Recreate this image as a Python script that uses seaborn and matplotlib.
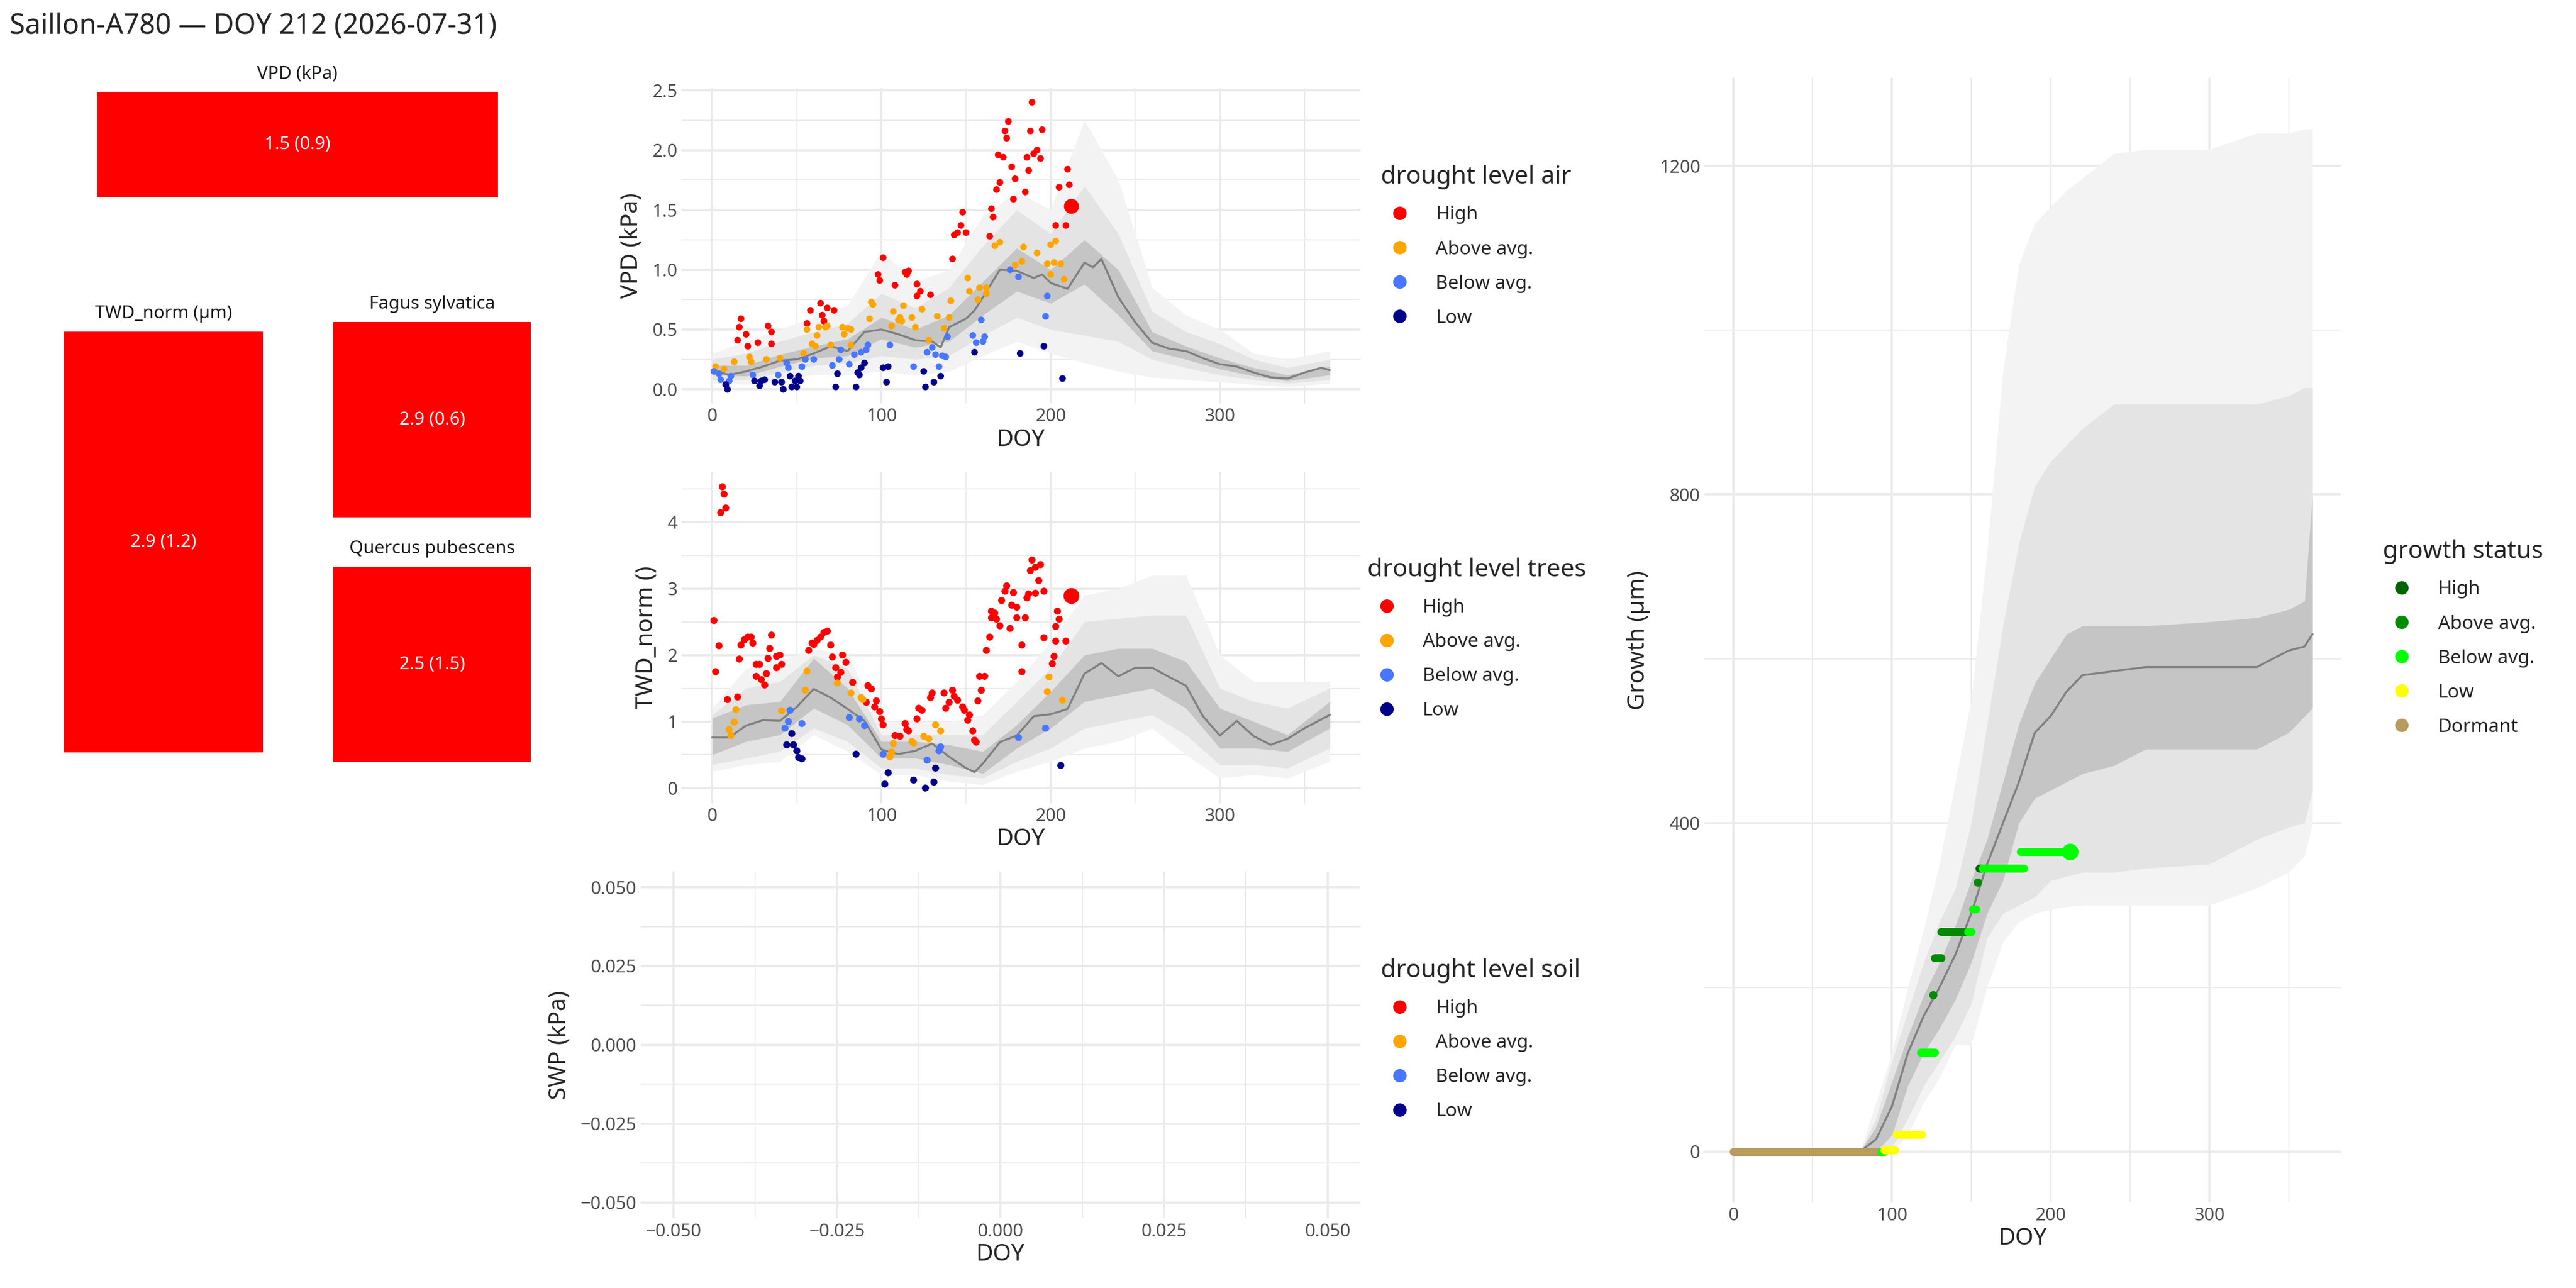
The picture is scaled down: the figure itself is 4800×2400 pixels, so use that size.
"""Site dashboard: drought tiles, VPD / TWD / SWP climatologies and growth curve."""

import matplotlib.pyplot as plt
import pandas as pd
import seaborn as sns
from matplotlib.lines import Line2D
from matplotlib.patches import Rectangle
from matplotlib.ticker import MultipleLocator

sns.set_theme(style="whitegrid")
plt.rcParams["font.family"] = ["Noto Sans", "DejaVu Sans"]

TITLE = "Saillon-A780 \u2014 DOY 212 (2026-07-31)"
CUR_DOY = 212

LEVELS = ["High", "Above avg.", "Below avg.", "Low"]
LEVEL_COLORS = ["#FF0000", "#FFA500", "#4876FF", "#00008B"]
GROWTH_LEVELS = ["High", "Above avg.", "Below avg.", "Low", "Dormant"]
GROWTH_COLORS = ["#006400", "#008B00", "#00FF00", "#FFFF00", "#B89B5E"]

# ---- summary tiles ----
tile_titles = ["VPD (kPa)", "TWD_norm (\u00b5m)", "Fagus sylvatica", "Quercus pubescens"]
tile_values = ["1.5 (0.9)", "2.9 (1.2)", "2.9 (0.6)", "2.5 (1.5)"]

# ---- VPD climatology (kPa) ----
clim_doy = [0, 20, 40, 60, 80, 100, 120, 140, 160, 180, 200, 220, 240, 260, 280, 300, 320, 340, 365]
med_doy = [0, 10, 20, 30, 40, 50, 60, 70, 80, 90, 100, 110, 120, 130, 135, 140, 150, 155, 160, 170, 180, 190, 195, 200,
           210, 220, 225, 230, 240, 250, 260, 270, 280, 290, 300, 310, 320, 330, 340, 350, 360, 365]
vpd_med = [0.16, 0.12, 0.15, 0.19, 0.24, 0.25, 0.30, 0.36, 0.32, 0.48, 0.50, 0.46, 0.41, 0.40, 0.35, 0.52, 0.59, 0.66,
           0.77, 1.00, 0.99, 0.93, 0.96, 0.89, 0.84, 1.06, 1.02, 1.09, 0.77, 0.56, 0.39, 0.34, 0.32, 0.26, 0.21, 0.19,
           0.14, 0.10, 0.09, 0.14, 0.18, 0.16]
vpd_in_lo = [0.12, 0.11, 0.19, 0.26, 0.28, 0.42, 0.35, 0.40, 0.62, 0.82, 0.72, 0.88, 0.62, 0.32, 0.25, 0.17, 0.11, 0.07, 0.12]
vpd_in_hi = [0.20, 0.20, 0.29, 0.36, 0.42, 0.60, 0.50, 0.62, 0.90, 1.18, 1.00, 1.25, 1.00, 0.48, 0.36, 0.26, 0.18, 0.12, 0.19]
vpd_mid_lo = [0.08, 0.08, 0.14, 0.20, 0.22, 0.28, 0.25, 0.28, 0.45, 0.60, 0.50, 0.45, 0.40, 0.25, 0.18, 0.12, 0.08, 0.05, 0.08]
vpd_mid_hi = [0.25, 0.30, 0.40, 0.48, 0.55, 0.80, 0.68, 0.85, 1.20, 1.50, 1.30, 1.70, 1.30, 0.65, 0.48, 0.38, 0.25, 0.18, 0.25]
vpd_out_lo = [0.05, 0.04, 0.08, 0.12, 0.12, 0.15, 0.12, 0.15, 0.28, 0.40, 0.30, 0.22, 0.15, 0.10, 0.08, 0.06, 0.04, 0.02, 0.05]
vpd_out_hi = [0.30, 0.40, 0.50, 0.60, 0.70, 1.15, 0.90, 1.00, 1.45, 1.65, 1.50, 2.25, 1.75, 0.85, 0.62, 0.50, 0.30, 0.25, 0.32]

vpd_high_doy = [17, 16, 20, 15, 21, 27, 33, 35, 35, 56, 58, 64, 65, 68, 72, 66, 101, 98, 99, 108, 114, 116, 115, 121, 123, 121, 129,
                142, 143, 145, 147, 148, 150, 164, 165, 166, 168, 170, 169, 172, 173, 174, 175, 177, 178, 179, 185, 186, 187, 188,
                189, 190, 192, 194, 195, 203, 205, 209, 210, 211]
vpd_high = [0.59, 0.52, 0.46, 0.41, 0.36, 0.39, 0.53, 0.48, 0.38, 0.55, 0.66, 0.72, 0.62, 0.68, 0.66, 0.57, 1.10, 0.96, 0.91, 0.87, 0.98,
            0.99, 0.96, 0.88, 0.82, 0.78, 0.79, 1.09, 1.29, 1.31, 1.37, 1.48, 1.31, 1.28, 1.51, 1.44, 1.67, 1.73, 1.96, 1.94, 2.16,
            2.10, 2.24, 1.86, 1.59, 1.76, 1.65, 1.94, 1.83, 2.16, 2.40, 1.97, 2.00, 1.93, 2.17, 1.37, 1.69, 1.37, 1.84, 1.71]
vpd_above_doy = [2, 7, 13, 22, 23, 32, 40, 54, 56, 59, 61, 62, 63, 67, 68, 70, 77, 78, 80, 82, 82, 93, 94, 95, 106, 107, 110, 111,
                 113, 112, 118, 120, 124, 128, 133, 137, 140, 141, 151, 152, 158, 157, 162, 162, 167, 170, 179, 183, 184, 192,
                 198, 200, 200, 202, 203, 206, 208]
vpd_above = [0.19, 0.17, 0.23, 0.27, 0.23, 0.25, 0.26, 0.30, 0.50, 0.38, 0.36, 0.45, 0.52, 0.52, 0.53, 0.37, 0.52, 0.46, 0.51, 0.50,
             0.37, 0.59, 0.73, 0.71, 0.53, 0.65, 0.58, 0.60, 0.70, 0.57, 0.60, 0.52, 0.67, 0.41, 0.61, 0.51, 0.60, 0.74, 0.93, 0.82,
             0.85, 0.75, 0.85, 0.80, 1.20, 1.23, 1.04, 1.07, 1.19, 1.14, 1.05, 0.96, 1.21, 1.06, 1.24, 1.05, 0.92]
vpd_below_doy = [1, 4, 5, 10, 11, 24, 39, 44, 45, 53, 55, 60, 71, 75, 76, 81, 84, 88, 91, 92, 105, 119, 127, 130, 132, 134, 136,
                 138, 139, 154, 156, 160, 161, 159, 176, 181, 197, 198]
vpd_below = [0.15, 0.13, 0.08, 0.07, 0.11, 0.12, 0.12, 0.22, 0.18, 0.19, 0.25, 0.25, 0.20, 0.25, 0.33, 0.21, 0.29, 0.31, 0.33, 0.37,
             0.37, 0.19, 0.31, 0.35, 0.29, 0.19, 0.28, 0.27, 0.44, 0.45, 0.39, 0.40, 0.44, 0.58, 1.00, 0.94, 0.61, 0.78]
vpd_low_doy = [8, 9, 25, 28, 29, 31, 37, 41, 42, 46, 47, 49, 50, 51, 52, 73, 74, 85, 86, 87, 88, 90, 101, 104, 103, 125, 126, 131,
               135, 155, 182, 196, 207]
vpd_low = [0.04, 0.00, 0.07, 0.03, 0.07, 0.08, 0.06, 0.06, 0.00, 0.11, 0.02, 0.07, 0.02, 0.11, 0.07, 0.02, 0.13, 0.02, 0.14, 0.12,
           0.18, 0.22, 0.18, 0.19, 0.06, 0.15, 0.02, 0.06, 0.11, 0.31, 0.30, 0.36, 0.09]
vpd_today = 1.53

# ---- TWD_norm climatology ----
twd_med_doy = [0, 10, 20, 30, 40, 50, 60, 70, 80, 90, 100, 110, 120, 130, 140, 150, 155, 160, 170, 180, 190, 200, 210,
               220, 230, 240, 250, 260, 270, 280, 290, 300, 310, 320, 330, 340, 350, 365]
twd_med = [0.76, 0.76, 0.94, 1.02, 1.01, 1.22, 1.49, 1.36, 1.19, 1.01, 0.58, 0.51, 0.56, 0.67, 0.47, 0.30, 0.24, 0.37,
           0.69, 0.79, 1.08, 1.11, 1.19, 1.72, 1.88, 1.68, 1.81, 1.81, 1.67, 1.54, 1.08, 0.79, 1.01, 0.78, 0.65, 0.74,
           0.90, 1.10]
twd_in_lo = [0.50, 0.70, 0.80, 1.20, 0.95, 0.45, 0.45, 0.35, 0.22, 0.60, 0.90, 1.30, 1.40, 1.50, 1.20, 0.60, 0.60, 0.55, 0.90]
twd_in_hi = [1.05, 1.25, 1.30, 1.95, 1.50, 0.70, 0.70, 0.65, 0.55, 0.95, 1.45, 2.00, 2.10, 2.10, 1.90, 1.20, 1.00, 0.80, 1.30]
twd_mid_lo = [0.35, 0.45, 0.55, 0.90, 0.70, 0.30, 0.30, 0.20, 0.15, 0.40, 0.60, 0.90, 1.00, 1.10, 0.80, 0.35, 0.35, 0.30, 0.60]
twd_mid_hi = [1.10, 1.50, 1.60, 2.00, 1.80, 0.80, 0.80, 0.80, 0.80, 1.30, 1.80, 2.50, 2.55, 2.60, 2.60, 1.50, 1.30, 1.20, 1.50]
twd_out_lo = [0.25, 0.35, 0.40, 0.80, 0.55, 0.20, 0.20, 0.10, 0.05, 0.25, 0.40, 0.60, 0.70, 0.90, 0.50, 0.15, 0.20, 0.15, 0.40]
twd_out_hi = [1.20, 1.80, 1.90, 2.10, 2.00, 1.00, 1.00, 1.00, 1.10, 1.60, 2.20, 2.90, 3.00, 3.20, 3.20, 2.00, 1.60, 1.60, 1.60]

twd_high_doy = [1, 2, 4, 5, 6, 7, 8, 9, 15, 16, 17, 19, 21, 23, 24, 26, 26, 28, 29, 31, 32, 33, 34, 35, 38, 38, 40, 41, 57, 59,
                60, 62, 64, 66, 68, 70, 71, 73, 74, 76, 77, 79, 83, 91, 92, 94, 96, 97, 99, 100, 101, 108, 111, 114, 116, 115,
                121, 122, 124, 129, 130, 137, 138, 140, 142, 143, 145, 148, 149, 151, 152, 154, 155, 156, 157, 159, 158, 161,
                162, 164, 165, 165, 167, 168, 170, 171, 173, 174, 176, 177, 178, 180, 180, 183, 183, 185, 186, 187, 188, 189,
                191, 191, 193, 194, 196, 196, 201, 202, 203, 203, 205, 204, 209]
twd_high = [2.52, 1.75, 2.14, 4.14, 4.53, 4.42, 4.21, 1.33, 1.37, 1.94, 2.15, 2.23, 2.27, 2.27, 2.18, 1.86, 1.68, 1.86, 1.63, 1.55,
            1.72, 1.95, 2.10, 2.30, 1.98, 1.81, 2.00, 1.86, 2.07, 2.18, 2.16, 2.22, 2.27, 2.34, 2.36, 2.15, 1.97, 1.81, 1.67, 1.74,
            2.00, 1.89, 1.59, 1.29, 1.54, 1.49, 1.22, 1.31, 1.15, 1.04, 0.95, 0.79, 0.78, 0.97, 0.86, 0.88, 1.04, 1.20, 1.17, 1.36,
            1.43, 1.43, 1.20, 1.29, 1.47, 1.38, 1.32, 1.22, 1.17, 1.02, 1.10, 0.86, 0.72, 0.69, 1.31, 1.47, 1.68, 1.68, 2.07, 2.27,
            2.66, 2.56, 2.63, 2.54, 2.44, 2.82, 2.96, 3.04, 2.40, 2.75, 2.94, 2.72, 2.56, 1.75, 2.15, 2.56, 2.86, 2.92, 3.27, 3.43,
            3.32, 2.93, 3.12, 3.36, 2.96, 2.26, 1.87, 1.98, 2.21, 2.43, 2.54, 2.66, 2.21]
twd_above_doy = [10, 11, 13, 14, 41, 55, 56, 74, 82, 88, 89, 105, 106, 107, 118, 119, 125, 128, 132, 135, 198, 199, 207]
twd_above = [0.88, 0.79, 0.99, 1.18, 1.16, 1.47, 1.76, 1.58, 1.43, 1.36, 1.33, 0.47, 0.54, 0.67, 0.70, 0.68, 0.78, 0.74, 0.95, 0.86,
             1.45, 1.67, 1.32]
twd_below_doy = [43, 45, 46, 53, 81, 87, 90, 101, 127, 134, 135, 181, 197]
twd_below = [0.90, 1.00, 1.17, 0.97, 1.06, 1.04, 0.94, 0.51, 0.42, 0.56, 0.62, 0.76, 0.90]
twd_low_doy = [44, 47, 48, 50, 51, 53, 85, 102, 104, 119, 126, 131, 132, 206]
twd_low = [0.65, 0.82, 0.65, 0.56, 0.46, 0.44, 0.51, 0.06, 0.23, 0.12, 0.00, 0.09, 0.30, 0.34]
twd_today = 2.89

# ---- growth climatology (µm) ----
gro_doy = [0, 80, 90, 100, 110, 120, 130, 140, 150, 160, 170, 180, 190, 200, 210, 220, 240, 260, 300, 330, 350, 360, 365]
gro_med = [0, 0, 15, 55, 120, 165, 200, 240, 290, 350, 400, 450, 510, 530, 560, 580, 585, 590, 590, 590, 610, 615, 630]
gro_in_lo = [0, 0, 0, 20, 80, 120, 150, 185, 230, 290, 330, 400, 430, 440, 450, 460, 470, 490, 490, 490, 510, 530, 540]
gro_in_hi = [0, 0, 30, 85, 140, 190, 230, 275, 330, 380, 450, 520, 570, 600, 630, 640, 640, 640, 645, 650, 660, 670, 800]
gro_mid_lo = [0, 0, 0, 5, 40, 80, 110, 140, 180, 260, 290, 300, 310, 330, 335, 340, 340, 345, 350, 380, 395, 400, 440]
gro_mid_hi = [0, 0, 40, 110, 170, 230, 280, 320, 400, 520, 640, 740, 810, 840, 860, 880, 910, 910, 910, 910, 920, 930, 930]
gro_out_lo = [0, 0, 0, 0, 20, 60, 90, 130, 130, 200, 255, 280, 290, 295, 298, 300, 300, 300, 300, 321, 340, 360, 400]
gro_out_hi = [0, 0, 60, 120, 200, 270, 350, 450, 550, 730, 950, 1080, 1130, 1150, 1170, 1185, 1215, 1220, 1220, 1240, 1240, 1245, 1245]

# runs of equal daily growth values: start doy, end doy, value, status
run_start = [0, 93, 95, 103, 118, 126, 127, 131, 148, 151, 154, 155, 157, 181]
run_end = [92, 95, 102, 119, 127, 126, 131, 148, 150, 153, 154, 156, 183, 212]
run_value = [0, 0, 2, 21, 121, 191, 236, 268, 268, 295, 328, 345, 345, 365]
run_status = ["Dormant", "Below avg.", "Low", "Low", "Below avg.", "Above avg.", "Above avg.", "Above avg.",
              "Below avg.", "Below avg.", "Above avg.", "High", "Below avg.", "Below avg."]
gro_today = 365

W, H = 1568, 784  # layout reference grid


def px_axes(fig, x0, x1, y0, y1):
    return fig.add_axes([x0 / W, 1 - y1 / H, (x1 - x0) / W, (y1 - y0) / H])


def style(ax, xmaj, xmin, ymaj, ymin):
    for s in ax.spines.values():
        s.set_visible(False)
    ax.set_facecolor("white")
    ax.xaxis.set_major_locator(MultipleLocator(xmaj))
    ax.xaxis.set_minor_locator(MultipleLocator(xmin))
    ax.yaxis.set_major_locator(MultipleLocator(ymaj))
    ax.yaxis.set_minor_locator(MultipleLocator(ymin))
    ax.grid(which="major", color="#EBEBEB", linewidth=1.0)
    ax.grid(which="minor", color="#EBEBEB", linewidth=0.5)
    ax.tick_params(which="both", length=0, labelsize=8, labelcolor="#4D4D4D", pad=2)
    ax.set_axisbelow(True)


def bands(ax, x, out_lo, out_hi, mid_lo, mid_hi, in_lo, in_hi, mx, med):
    ax.fill_between(x, out_lo, out_hi, color="#F3F3F3", lw=0, zorder=1)
    ax.fill_between(x, mid_lo, mid_hi, color="#E4E4E4", lw=0, zorder=1)
    ax.fill_between(x, in_lo, in_hi, color="#C5C5C5", lw=0, zorder=1)
    sns.lineplot(x=mx, y=med, ax=ax, color="#808080", linewidth=0.9, zorder=2)


def points_frame(pairs):
    rows = []
    for lvl, (d, v) in zip(LEVELS, pairs):
        rows += [{"doy": a, "val": b, "level": lvl} for a, b in zip(d, v)]
    return pd.DataFrame(rows)


def level_legend(ax, title, handles_colors, labels, x, y):
    handles = [Line2D([], [], marker="o", ls="", color=c, markersize=5) for c in handles_colors]
    ax.legend(handles, labels, title=title, loc="upper left", bbox_to_anchor=(x / W, 1 - y / H),
              bbox_transform=ax.figure.transFigure, frameon=False, fontsize=8.5, title_fontsize=11,
              labelspacing=0.85, handletextpad=0.9, alignment="left")


fig = plt.figure(figsize=(16, 8), dpi=300)
fig.text(6 / W, 1 - 16 / H, TITLE, fontsize=12.5, va="center", ha="left")

# ---- tiles ----
tax = fig.add_axes([0, 0, 1, 1])
tax.set_xlim(0, W)
tax.set_ylim(H, 0)
tax.axis("off")
tile_boxes = [(59, 303, 56, 120), (39, 160, 202, 458), (203, 323, 196, 315), (203, 323, 345, 464)]
for (x0, x1, y0, y1), ttl, val in zip(tile_boxes, tile_titles, tile_values):
    tax.add_patch(Rectangle((x0, y0), x1 - x0, y1 - y0, color="#FF0000", lw=0))
    tax.text((x0 + x1) / 2, y0 - 11, ttl, ha="center", va="center", fontsize=8, color="#1A1A1A")
    tax.text((x0 + x1) / 2, (y0 + y1) / 2, val, ha="center", va="center", fontsize=8, color="white")

# ---- VPD panel ----
ax1 = px_axes(fig, 415, 828, 53.5, 245.7)
style(ax1, 100, 50, 0.5, 0.25)
ax1.set_xlim(-18, 383)
ax1.set_ylim(-0.12, 2.52)
bands(ax1, clim_doy, vpd_out_lo, vpd_out_hi, vpd_mid_lo, vpd_mid_hi, vpd_in_lo, vpd_in_hi, med_doy, vpd_med)
df1 = points_frame([(vpd_high_doy, vpd_high), (vpd_above_doy, vpd_above), (vpd_below_doy, vpd_below), (vpd_low_doy, vpd_low)])
sns.scatterplot(data=df1, x="doy", y="val", hue="level", hue_order=LEVELS, palette=LEVEL_COLORS, s=9,
                linewidth=0, legend=False, ax=ax1, zorder=3)
ax1.scatter([CUR_DOY], [vpd_today], s=45, color="#FF0000", lw=0, zorder=4)
ax1.set_xlabel("DOY", fontsize=10.5, labelpad=1)
ax1.set_ylabel("VPD (kPa)", fontsize=10.5)
level_legend(ax1, "drought level air", LEVEL_COLORS, LEVELS, 830, 90)

# ---- TWD panel ----
ax2 = px_axes(fig, 415, 828, 287, 489)
style(ax2, 100, 50, 1, 0.5)
ax2.set_xlim(-18, 383)
ax2.set_ylim(-0.23, 4.76)
bands(ax2, clim_doy, twd_out_lo, twd_out_hi, twd_mid_lo, twd_mid_hi, twd_in_lo, twd_in_hi, twd_med_doy, twd_med)
df2 = points_frame([(twd_high_doy, twd_high), (twd_above_doy, twd_above), (twd_below_doy, twd_below), (twd_low_doy, twd_low)])
sns.scatterplot(data=df2, x="doy", y="val", hue="level", hue_order=LEVELS, palette=LEVEL_COLORS, s=10,
                linewidth=0, legend=False, ax=ax2, zorder=3)
ax2.scatter([CUR_DOY], [twd_today], s=50, color="#FF0000", lw=0, zorder=4)
ax2.set_xlabel("DOY", fontsize=10.5, labelpad=1)
ax2.set_ylabel("TWD_norm ()", fontsize=10.5)
level_legend(ax2, "drought level trees", LEVEL_COLORS, LEVELS, 822, 329)

# ---- SWP panel (no data) ----
ax3 = px_axes(fig, 390, 828, 530.4, 741.6)
style(ax3, 0.025, 0.0125, 0.025, 0.0125)
ax3.set_xlim(-0.055, 0.055)
ax3.set_ylim(-0.055, 0.055)
ax3.xaxis.set_major_formatter(lambda v, p: f"{v:.3f}".replace("-", "\u2212") if abs(v) > 1e-9 else "0.000")
ax3.yaxis.set_major_formatter(lambda v, p: f"{v:.3f}".replace("-", "\u2212") if abs(v) > 1e-9 else "0.000")
ax3.set_xlabel("DOY", fontsize=10.5, labelpad=1)
ax3.set_ylabel("SWP (kPa)", fontsize=10.5)
level_legend(ax3, "drought level soil", LEVEL_COLORS, LEVELS, 830, 573)

# ---- growth panel ----
ax4 = px_axes(fig, 1037.6, 1425, 47.5, 732)
style(ax4, 100, 50, 400, 200)
ax4.set_xlim(-18, 383)
ax4.set_ylim(-62, 1307)
bands(ax4, gro_doy, gro_out_lo, gro_out_hi, gro_mid_lo, gro_mid_hi, gro_in_lo, gro_in_hi, gro_doy, gro_med)
gcol = dict(zip(GROWTH_LEVELS, GROWTH_COLORS))
for a, b, v, st in zip(run_start, run_end, run_value, run_status):
    ax4.plot([a, b], [v, v], color=gcol[st], lw=3.6, solid_capstyle="round", zorder=3,
             marker="o" if a == b else None, markersize=3.6, markeredgewidth=0)
ax4.scatter([CUR_DOY], [gro_today], s=55, color=gcol["Below avg."], lw=0, zorder=4)
ax4.set_xlabel("DOY", fontsize=10.5, labelpad=1)
ax4.set_ylabel("Growth (\u00b5m)", fontsize=10.5)
level_legend(ax4, "growth status", GROWTH_COLORS, GROWTH_LEVELS, 1440, 318)

fig.savefig("out.png", dpi=300)
